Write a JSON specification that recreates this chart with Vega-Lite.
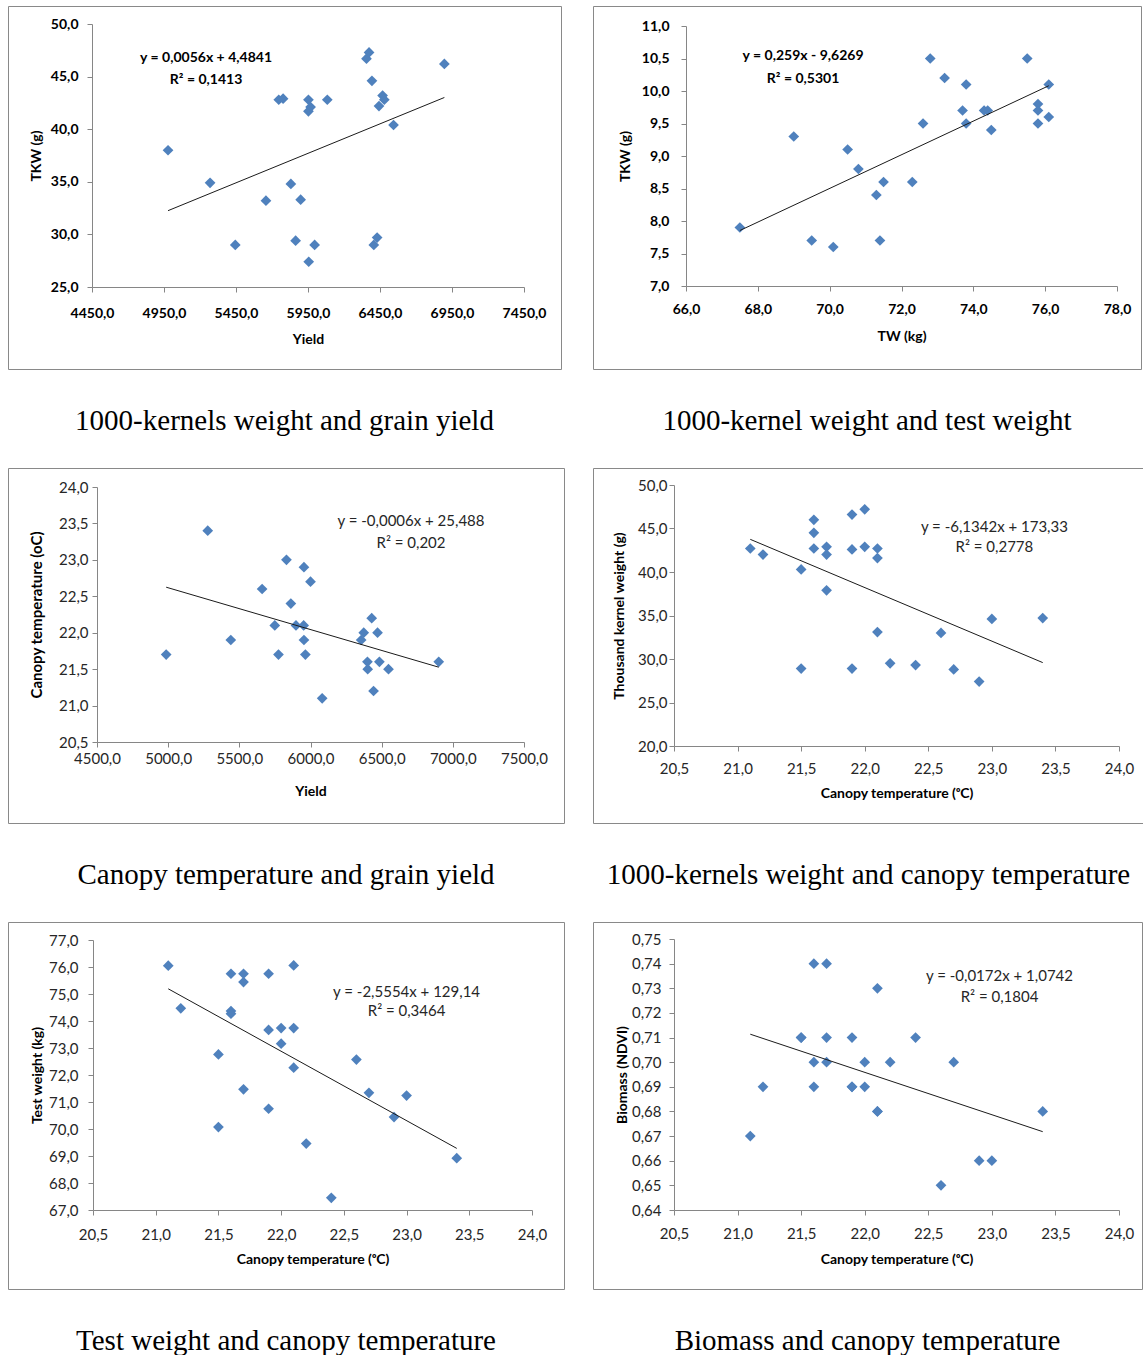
{
  "$schema": "https://vega.github.io/schema/vega-lite/v6.json",
  "padding": {"left": 7, "top": 5, "right": 0, "bottom": 0},
  "background": "white",
  "bounds": "flush",
  "columns": 2,
  "spacing": {"row": 99, "column": 29},
  "datasets": {
    "p1": [
      {"yield": 4978, "tkw": 38.0}, {"yield": 5270, "tkw": 34.9}, {"yield": 5445, "tkw": 29.0},
      {"yield": 5658, "tkw": 33.2}, {"yield": 5747, "tkw": 42.8}, {"yield": 5777, "tkw": 42.9},
      {"yield": 5831, "tkw": 34.8}, {"yield": 5864, "tkw": 29.4}, {"yield": 5899, "tkw": 33.3},
      {"yield": 5953, "tkw": 42.8}, {"yield": 5968, "tkw": 42.1}, {"yield": 5953, "tkw": 41.7},
      {"yield": 5955, "tkw": 27.4}, {"yield": 5996, "tkw": 29.0}, {"yield": 6084, "tkw": 42.8},
      {"yield": 6356, "tkw": 46.7}, {"yield": 6374, "tkw": 47.3}, {"yield": 6394, "tkw": 44.6},
      {"yield": 6407, "tkw": 29.0}, {"yield": 6430, "tkw": 29.7}, {"yield": 6443, "tkw": 42.2},
      {"yield": 6468, "tkw": 43.2}, {"yield": 6480, "tkw": 42.8}, {"yield": 6544, "tkw": 40.4},
      {"yield": 6897, "tkw": 46.2}
    ],
    "p2": [
      {"tw": 67.5, "tkw": 7.9}, {"tw": 69.0, "tkw": 9.3}, {"tw": 69.5, "tkw": 7.7},
      {"tw": 70.1, "tkw": 7.6}, {"tw": 70.5, "tkw": 9.1}, {"tw": 70.8, "tkw": 8.8},
      {"tw": 71.3, "tkw": 8.4}, {"tw": 71.4, "tkw": 7.7}, {"tw": 71.5, "tkw": 8.6},
      {"tw": 72.3, "tkw": 8.6}, {"tw": 72.6, "tkw": 9.5}, {"tw": 72.8, "tkw": 10.5},
      {"tw": 73.2, "tkw": 10.2}, {"tw": 73.7, "tkw": 9.7}, {"tw": 73.8, "tkw": 10.1},
      {"tw": 73.8, "tkw": 9.5}, {"tw": 74.3, "tkw": 9.7}, {"tw": 74.4, "tkw": 9.7},
      {"tw": 74.5, "tkw": 9.4}, {"tw": 75.5, "tkw": 10.5}, {"tw": 75.8, "tkw": 9.8},
      {"tw": 75.8, "tkw": 9.7}, {"tw": 75.8, "tkw": 9.5}, {"tw": 76.1, "tkw": 10.1},
      {"tw": 76.1, "tkw": 9.6}
    ],
    "p3": [
      {"yield": 4986, "ct": 21.7}, {"yield": 5278, "ct": 23.4}, {"yield": 5440, "ct": 21.9},
      {"yield": 5660, "ct": 22.6}, {"yield": 5749, "ct": 22.1}, {"yield": 5775, "ct": 21.7},
      {"yield": 5831, "ct": 23.0}, {"yield": 5862, "ct": 22.4}, {"yield": 5898, "ct": 22.1},
      {"yield": 5954, "ct": 22.9}, {"yield": 5952, "ct": 22.1}, {"yield": 5954, "ct": 21.9},
      {"yield": 5964, "ct": 21.7}, {"yield": 6000, "ct": 22.7}, {"yield": 6082, "ct": 21.1},
      {"yield": 6356, "ct": 21.9}, {"yield": 6374, "ct": 22.0}, {"yield": 6400, "ct": 21.6},
      {"yield": 6402, "ct": 21.5}, {"yield": 6430, "ct": 22.2}, {"yield": 6443, "ct": 21.2},
      {"yield": 6471, "ct": 22.0}, {"yield": 6484, "ct": 21.6}, {"yield": 6548, "ct": 21.5},
      {"yield": 6901, "ct": 21.6}
    ],
    "p4": [
      {"ct": 21.1, "tkw": 42.7}, {"ct": 21.2, "tkw": 42.0}, {"ct": 21.5, "tkw": 40.3},
      {"ct": 21.5, "tkw": 28.9}, {"ct": 21.6, "tkw": 46.0}, {"ct": 21.6, "tkw": 44.5},
      {"ct": 21.6, "tkw": 42.7}, {"ct": 21.7, "tkw": 42.9}, {"ct": 21.7, "tkw": 42.0},
      {"ct": 21.7, "tkw": 37.9}, {"ct": 21.9, "tkw": 46.6}, {"ct": 21.9, "tkw": 42.6},
      {"ct": 21.9, "tkw": 28.9}, {"ct": 22.0, "tkw": 47.2}, {"ct": 22.0, "tkw": 42.9},
      {"ct": 22.1, "tkw": 42.7}, {"ct": 22.1, "tkw": 41.6}, {"ct": 22.1, "tkw": 33.1},
      {"ct": 22.2, "tkw": 29.5}, {"ct": 22.4, "tkw": 29.3}, {"ct": 22.6, "tkw": 33.0},
      {"ct": 22.7, "tkw": 28.8}, {"ct": 22.9, "tkw": 27.4}, {"ct": 23.0, "tkw": 34.6},
      {"ct": 23.4, "tkw": 34.7}
    ],
    "p5": [
      {"ct": 21.1, "tw": 76.05}, {"ct": 21.2, "tw": 74.47}, {"ct": 21.5, "tw": 72.76},
      {"ct": 21.5, "tw": 70.07}, {"ct": 21.6, "tw": 75.75}, {"ct": 21.6, "tw": 74.37},
      {"ct": 21.6, "tw": 74.27}, {"ct": 21.7, "tw": 75.75}, {"ct": 21.7, "tw": 75.44},
      {"ct": 21.7, "tw": 71.47}, {"ct": 21.9, "tw": 75.75}, {"ct": 21.9, "tw": 73.67},
      {"ct": 21.9, "tw": 70.75}, {"ct": 22.0, "tw": 73.74}, {"ct": 22.0, "tw": 73.16},
      {"ct": 22.1, "tw": 76.06}, {"ct": 22.1, "tw": 73.74}, {"ct": 22.1, "tw": 72.27},
      {"ct": 22.2, "tw": 69.46}, {"ct": 22.4, "tw": 67.45}, {"ct": 22.6, "tw": 72.57},
      {"ct": 22.7, "tw": 71.34}, {"ct": 22.9, "tw": 70.44}, {"ct": 23.0, "tw": 71.24},
      {"ct": 23.4, "tw": 68.92}
    ],
    "p6": [
      {"ct": 21.1, "ndvi": 0.67}, {"ct": 21.2, "ndvi": 0.69}, {"ct": 21.5, "ndvi": 0.71},
      {"ct": 21.5, "ndvi": 0.71}, {"ct": 21.6, "ndvi": 0.74}, {"ct": 21.6, "ndvi": 0.70},
      {"ct": 21.6, "ndvi": 0.69}, {"ct": 21.7, "ndvi": 0.74}, {"ct": 21.7, "ndvi": 0.71},
      {"ct": 21.7, "ndvi": 0.70}, {"ct": 21.9, "ndvi": 0.71}, {"ct": 21.9, "ndvi": 0.69},
      {"ct": 21.9, "ndvi": 0.69}, {"ct": 22.0, "ndvi": 0.70}, {"ct": 22.0, "ndvi": 0.69},
      {"ct": 22.1, "ndvi": 0.73}, {"ct": 22.1, "ndvi": 0.68}, {"ct": 22.1, "ndvi": 0.68},
      {"ct": 22.2, "ndvi": 0.70}, {"ct": 22.4, "ndvi": 0.71}, {"ct": 22.6, "ndvi": 0.65},
      {"ct": 22.7, "ndvi": 0.70}, {"ct": 22.9, "ndvi": 0.66}, {"ct": 23.0, "ndvi": 0.66},
      {"ct": 23.4, "ndvi": 0.68}
    ]
  },
  "concat": [
    {
      "width": 553, "height": 363,
      "title": {"text": "1000-kernels weight and grain yield"},
      "data": {"name": "p1"},
      "layer": [
        {
          "mark": {"type": "point", "shape": "diamond", "filled": true, "size": 115, "color": "#4F81BD", "opacity": 1, "strokeWidth": 0},
          "encoding": {
            "x": {"field": "yield", "type": "quantitative",
              "scale": {"domain": [4450, 7450], "range": [84, 516], "nice": false, "zero": false},
              "axis": {"title": "Yield", "values": [4450, 4950, 5450, 5950, 6450, 6950, 7450], "tickCount": 30, "format": ".1f", "offset": -82, "labelOverlap": false,
                "labelFontWeight": "bold", "labelFontSize": 14, "labelColor": "#000", "labelPadding": 14, "titlePadding": 12, "titleFontSize": 14}},
            "y": {"field": "tkw", "type": "quantitative",
              "scale": {"domain": [25, 50], "range": [281, 18], "nice": false, "zero": false},
              "axis": {"title": "TKW (g)", "values": [25, 30, 35, 40, 45, 50], "tickCount": 30, "format": ".1f", "offset": -84, "labelOverlap": false,
                "labelFontWeight": "bold", "labelFontSize": 14, "labelColor": "#000", "labelPadding": 9, "titlePadding": 7, "titleFontSize": 14}}
          }
        },
        {
          "transform": [{"regression": "tkw", "on": "yield"}],
          "mark": {"type": "line", "color": "#1a1a1a", "strokeWidth": 1},
          "encoding": {"x": {"field": "yield", "type": "quantitative"}, "y": {"field": "tkw", "type": "quantitative"}}
        },
        {
          "data": {"values": [{}]},
          "mark": {"type": "text", "fontWeight": "bold", "fontSize": 14, "color": "#000", "align": "center", "baseline": "middle"},
          "encoding": {"x": {"datum": 5242}, "y": {"datum": 46.78}, "text": {"value": "y = 0,0056x + 4,4841"}}
        },
        {
          "data": {"values": [{}]},
          "mark": {"type": "text", "fontWeight": "bold", "fontSize": 14, "color": "#000", "align": "center", "baseline": "middle"},
          "encoding": {"x": {"datum": 5242}, "y": {"datum": 44.7}, "text": {"value": "R² = 0,1413"}}
        }
      ]
    },
    {
      "width": 548, "height": 363,
      "title": {"text": "1000-kernel weight and test weight"},
      "data": {"name": "p2"},
      "layer": [
        {
          "mark": {"type": "point", "shape": "diamond", "filled": true, "size": 115, "color": "#4F81BD", "opacity": 1, "strokeWidth": 0},
          "encoding": {
            "x": {"field": "tw", "type": "quantitative",
              "scale": {"domain": [66, 78], "range": [93, 524], "nice": false, "zero": false},
              "axis": {"title": "TW (kg)", "values": [66, 68, 70, 72, 74, 76, 78], "tickCount": 30, "format": ".1f", "offset": -83, "labelOverlap": false,
                "labelFontWeight": "bold", "labelFontSize": 14, "labelColor": "#000", "labelPadding": 11, "titlePadding": 13, "titleFontSize": 14}},
            "y": {"field": "tkw", "type": "quantitative",
              "scale": {"domain": [7, 11], "range": [280, 20], "nice": false, "zero": false},
              "axis": {"title": "TKW (g)", "values": [7, 7.5, 8, 8.5, 9, 9.5, 10, 10.5, 11], "tickCount": 30, "format": ".1f", "offset": -93, "labelOverlap": false,
                "labelFontWeight": "bold", "labelFontSize": 14, "labelColor": "#000", "labelPadding": 12, "titlePadding": 9, "titleFontSize": 14}}
          }
        },
        {
          "transform": [{"regression": "tkw", "on": "tw"}],
          "mark": {"type": "line", "color": "#1a1a1a", "strokeWidth": 1},
          "encoding": {"x": {"field": "tw", "type": "quantitative"}, "y": {"field": "tkw", "type": "quantitative"}}
        },
        {
          "data": {"values": [{}]},
          "mark": {"type": "text", "fontWeight": "bold", "fontSize": 14, "color": "#000", "align": "center", "baseline": "middle"},
          "encoding": {"x": {"datum": 69.26}, "y": {"datum": 10.54}, "text": {"value": "y = 0,259x - 9,6269"}}
        },
        {
          "data": {"values": [{}]},
          "mark": {"type": "text", "fontWeight": "bold", "fontSize": 14, "color": "#000", "align": "center", "baseline": "middle"},
          "encoding": {"x": {"datum": 69.26}, "y": {"datum": 10.18}, "text": {"value": "R² = 0,5301"}}
        }
      ]
    },
    {
      "width": 556, "height": 355,
      "title": {"text": "Canopy temperature and grain yield"},
      "data": {"name": "p3"},
      "layer": [
        {
          "mark": {"type": "point", "shape": "diamond", "filled": true, "size": 115, "color": "#4F81BD", "opacity": 1, "strokeWidth": 0},
          "encoding": {
            "x": {"field": "yield", "type": "quantitative",
              "scale": {"domain": [4500, 7500], "range": [89, 516], "nice": false, "zero": false},
              "axis": {"title": "Yield", "values": [4500, 5000, 5500, 6000, 6500, 7000, 7500], "tickCount": 30, "format": ".1f", "offset": -81, "labelOverlap": false,
                "labelFontSize": 15, "labelPadding": 4, "titlePadding": 18, "titleFontSize": 14}},
            "y": {"field": "ct", "type": "quantitative",
              "scale": {"domain": [20.5, 24], "range": [274, 19], "nice": false, "zero": false},
              "axis": {"title": "Canopy temperature (oC)", "values": [20.5, 21, 21.5, 22, 22.5, 23, 23.5, 24], "tickCount": 30, "format": ".1f", "offset": -89, "labelOverlap": false,
                "labelFontSize": 15, "labelPadding": 4, "titlePadding": 14, "titleFontSize": 15}}
          }
        },
        {
          "transform": [{"regression": "ct", "on": "yield"}],
          "mark": {"type": "line", "color": "#1a1a1a", "strokeWidth": 1},
          "encoding": {"x": {"field": "yield", "type": "quantitative"}, "y": {"field": "ct", "type": "quantitative"}}
        },
        {
          "data": {"values": [{}]},
          "mark": {"type": "text", "fontSize": 15, "color": "#262626", "align": "center", "baseline": "middle"},
          "encoding": {"x": {"datum": 6706}, "y": {"datum": 23.53}, "text": {"value": "y = -0,0006x + 25,488"}}
        },
        {
          "data": {"values": [{}]},
          "mark": {"type": "text", "fontSize": 15, "color": "#262626", "align": "center", "baseline": "middle"},
          "encoding": {"x": {"datum": 6706}, "y": {"datum": 23.23}, "text": {"value": "R² = 0,202"}}
        }
      ]
    },
    {
      "width": 551, "height": 355,
      "title": {"text": "1000-kernels weight and canopy temperature"},
      "data": {"name": "p4"},
      "layer": [
        {
          "mark": {"type": "point", "shape": "diamond", "filled": true, "size": 115, "color": "#4F81BD", "opacity": 1, "strokeWidth": 0},
          "encoding": {
            "x": {"field": "ct", "type": "quantitative",
              "scale": {"domain": [20.5, 24], "range": [81, 526], "nice": false, "zero": false},
              "axis": {"title": "Canopy temperature (ᵒC)", "values": [20.5, 21, 21.5, 22, 22.5, 23, 23.5, 24], "tickCount": 30, "format": ".1f", "offset": -77, "labelOverlap": false,
                "labelFontSize": 15, "labelPadding": 10, "titlePadding": 10, "titleFontSize": 14}},
            "y": {"field": "tkw", "type": "quantitative",
              "scale": {"domain": [20, 50], "range": [278, 17], "nice": false, "zero": false},
              "axis": {"title": "Thousand kernel weight (g)", "values": [20, 25, 30, 35, 40, 45, 50], "tickCount": 30, "format": ".1f", "offset": -81, "labelOverlap": false,
                "labelFontSize": 15, "labelPadding": 2, "titlePadding": 11, "titleFontSize": 14}}
          }
        },
        {
          "transform": [{"regression": "tkw", "on": "ct"}],
          "mark": {"type": "line", "color": "#1a1a1a", "strokeWidth": 1},
          "encoding": {"x": {"field": "ct", "type": "quantitative"}, "y": {"field": "tkw", "type": "quantitative"}}
        },
        {
          "data": {"values": [{}]},
          "mark": {"type": "text", "fontSize": 15, "color": "#262626", "align": "center", "baseline": "middle"},
          "encoding": {"x": {"datum": 23.02}, "y": {"datum": 45.17}, "text": {"value": "y = -6,1342x + 173,33"}}
        },
        {
          "data": {"values": [{}]},
          "mark": {"type": "text", "fontSize": 15, "color": "#262626", "align": "center", "baseline": "middle"},
          "encoding": {"x": {"datum": 23.02}, "y": {"datum": 42.87}, "text": {"value": "R² = 0,2778"}}
        }
      ]
    },
    {
      "width": 556, "height": 367,
      "title": {"text": "Test weight and canopy temperature"},
      "data": {"name": "p5"},
      "layer": [
        {
          "mark": {"type": "point", "shape": "diamond", "filled": true, "size": 115, "color": "#4F81BD", "opacity": 1, "strokeWidth": 0},
          "encoding": {
            "x": {"field": "ct", "type": "quantitative",
              "scale": {"domain": [20.5, 24], "range": [85, 524], "nice": false, "zero": false},
              "axis": {"title": "Canopy temperature (ᵒC)", "values": [20.5, 21, 21.5, 22, 22.5, 23, 23.5, 24], "tickCount": 30, "format": ".1f", "offset": -79, "labelOverlap": false,
                "labelFontSize": 15, "labelPadding": 12, "titlePadding": 10, "titleFontSize": 14}},
            "y": {"field": "tw", "type": "quantitative",
              "scale": {"domain": [67, 77], "range": [288, 18], "nice": false, "zero": false},
              "axis": {"title": "Test weight (kg)", "values": [67, 68, 69, 70, 71, 72, 73, 74, 75, 76, 77], "tickCount": 30, "format": ".1f", "offset": -85, "labelOverlap": false,
                "labelFontSize": 15, "labelPadding": 10, "titlePadding": 4, "titleFontSize": 14}}
          }
        },
        {
          "transform": [{"regression": "tw", "on": "ct"}],
          "mark": {"type": "line", "color": "#1a1a1a", "strokeWidth": 1},
          "encoding": {"x": {"field": "ct", "type": "quantitative"}, "y": {"field": "tw", "type": "quantitative"}}
        },
        {
          "data": {"values": [{}]},
          "mark": {"type": "text", "fontSize": 15, "color": "#262626", "align": "center", "baseline": "middle"},
          "encoding": {"x": {"datum": 23.0}, "y": {"datum": 75.07}, "text": {"value": "y = -2,5554x + 129,14"}}
        },
        {
          "data": {"values": [{}]},
          "mark": {"type": "text", "fontSize": 15, "color": "#262626", "align": "center", "baseline": "middle"},
          "encoding": {"x": {"datum": 23.0}, "y": {"datum": 74.37}, "text": {"value": "R² = 0,3464"}}
        }
      ]
    },
    {
      "width": 549, "height": 367,
      "title": {"text": "Biomass and canopy temperature"},
      "data": {"name": "p6"},
      "layer": [
        {
          "mark": {"type": "point", "shape": "diamond", "filled": true, "size": 115, "color": "#4F81BD", "opacity": 1, "strokeWidth": 0},
          "encoding": {
            "x": {"field": "ct", "type": "quantitative",
              "scale": {"domain": [20.5, 24], "range": [81, 526], "nice": false, "zero": false},
              "axis": {"title": "Canopy temperature (ᵒC)", "values": [20.5, 21, 21.5, 22, 22.5, 23, 23.5, 24], "tickCount": 30, "format": ".1f", "offset": -79, "labelOverlap": false,
                "labelFontSize": 15, "labelPadding": 11, "titlePadding": 11, "titleFontSize": 14}},
            "y": {"field": "ndvi", "type": "quantitative",
              "scale": {"domain": [0.64, 0.75], "range": [288, 17], "nice": false, "zero": false},
              "axis": {"title": "Biomass (NDVI)", "values": [0.64, 0.65, 0.66, 0.67, 0.68, 0.69, 0.70, 0.71, 0.72, 0.73, 0.74, 0.75], "tickCount": 30, "format": ".2f", "offset": -81, "labelOverlap": false,
                "labelFontSize": 15, "labelPadding": 8, "titlePadding": 2, "titleFontSize": 14}}
          }
        },
        {
          "transform": [{"regression": "ndvi", "on": "ct"}],
          "mark": {"type": "line", "color": "#1a1a1a", "strokeWidth": 1},
          "encoding": {"x": {"field": "ct", "type": "quantitative"}, "y": {"field": "ndvi", "type": "quantitative"}}
        },
        {
          "data": {"values": [{}]},
          "mark": {"type": "text", "fontSize": 15, "color": "#262626", "align": "center", "baseline": "middle"},
          "encoding": {"x": {"datum": 23.06}, "y": {"datum": 0.735}, "text": {"value": "y = -0,0172x + 1,0742"}}
        },
        {
          "data": {"values": [{}]},
          "mark": {"type": "text", "fontSize": 15, "color": "#262626", "align": "center", "baseline": "middle"},
          "encoding": {"x": {"datum": 23.06}, "y": {"datum": 0.7265}, "text": {"value": "R² = 0,1804"}}
        }
      ]
    }
  ],
  "config": {
    "locale": {"number": {"decimal": ",", "thousands": ".", "grouping": [3], "currency": ["", ""]}},
    "font": "Lato",
    "view": {"stroke": "#898989", "strokeWidth": 1},
    "axis": {
      "grid": false,
      "domainColor": "#868686",
      "tickColor": "#868686",
      "tickSize": 5,
      "labelFont": "Lato",
      "titleFont": "Lato",
      "labelColor": "#262626",
      "titleColor": "#000000",
      "titleFontWeight": "bold",
      "labelFlush": false,
      "labelOverlap": false
    },
    "title": {
      "font": "Liberation Serif",
      "fontSize": 29,
      "fontWeight": "normal",
      "color": "#000000",
      "orient": "bottom",
      "anchor": "middle",
      "frame": "group",
      "baseline": "alphabetic",
      "offset": 38
    }
  }
}
